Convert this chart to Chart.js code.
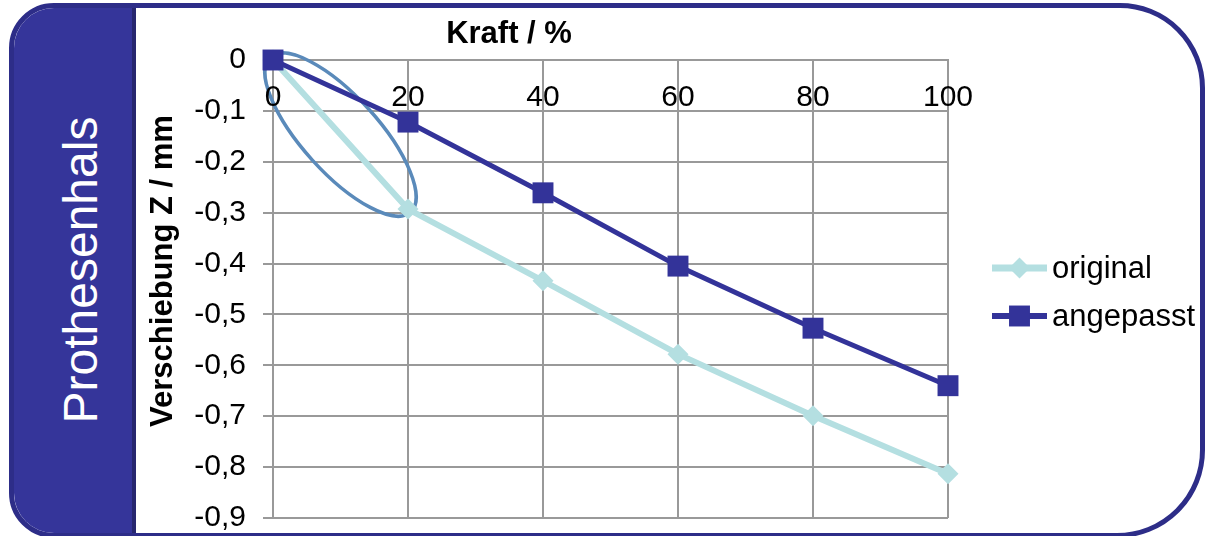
<!DOCTYPE html>
<html>
<head>
<meta charset="utf-8">
<title>Prothesenhals – Verschiebung Z</title>
<script src="https://cdn.jsdelivr.net/npm/chart.js@4.4.1/dist/chart.umd.min.js"></script>
<style>
  html, body { margin: 0; padding: 0; background: #fff; }
  #stage { position: relative; width: 1207px; height: 536px; overflow: hidden; background: #fff; }
  #frame {
    position: absolute; left: 9px; top: 3px; width: 1196px; height: 535px;
    box-sizing: border-box; border: 5px solid #2d2d88;
    border-radius: 45px 85px 88px 45px; overflow: hidden; background: #fff;
  }
  #side {
    position: absolute; left: 0; top: 0; bottom: 0; width: 118px;
    background: #35359a; border-right: 4px solid #27276f;
  }
  #sideLabel {
    position: absolute; left: 80px; top: 270px;
    transform: translate(-50%, -50%) rotate(-90deg);
    white-space: nowrap; color: #fff; line-height: 1;
    font: 48px "Liberation Sans", Arial, sans-serif;
  }
  #chartBox { position: absolute; left: 0; top: 0; width: 1207px; height: 536px; }
</style>
</head>
<body>
<div id="stage">
  <div id="frame"><div id="side"></div></div>
  <div id="sideLabel">Prothesenhals</div>
  <div id="chartBox"><canvas id="chart"></canvas></div>
</div>
<script>
// Force steps (x) and displacement in Z (y, mm)
const force = [0, 20, 40, 60, 80, 100];
const original = [0, -0.293, -0.434, -0.578, -0.699, -0.813];
const angepasst = [0, -0.122, -0.261, -0.405, -0.527, -0.640];

const seriesNames = ['original', 'angepasst'];
const xTickLabels = ['0', '20', '40', '60', '80', '100'];
const yTickLabels = ['0', '-0,1', '-0,2', '-0,3', '-0,4', '-0,5', '-0,6', '-0,7', '-0,8', '-0,9'];
const xTitle = 'Kraft / %';
const yTitle = 'Verschiebung Z / mm';

// Highlighted initial segment of the "original" curve (index range)
const highlight = { from: 0, to: 1 };

const FONT = '"Liberation Sans", Arial, sans-serif';
const GRID = '#999999';
const LIGHT = '#b4dfe1';
const DARK = '#333399';

const decorations = {
  id: 'decorations',
  beforeDatasetsDraw(chart) {
    const { ctx, chartArea, scales: { x, y } } = chart;
    ctx.save();

    // ellipse around the first segment of the original curve
    const x0 = x.getPixelForValue(force[highlight.from]);
    const y0 = y.getPixelForValue(original[highlight.from]);
    const x1 = x.getPixelForValue(force[highlight.to]);
    const y1 = y.getPixelForValue(original[highlight.to]);
    const cx = (x0 + x1) / 2, cy = (y0 + y1) / 2;
    const semiMajor = Math.hypot(x1 - x0, y1 - y0) / 2 + 4;
    ctx.beginPath();
    ctx.ellipse(cx, cy, semiMajor, 38, Math.atan2(y1 - y0, x1 - x0), 0, Math.PI * 2);
    ctx.strokeStyle = '#5a8aba';
    ctx.lineWidth = 3.5;
    ctx.stroke();

    // x tick labels, drawn just inside the plot below the top axis
    ctx.fillStyle = '#000';
    ctx.font = '30px ' + FONT;
    ctx.textAlign = 'center';
    ctx.textBaseline = 'middle';
    x.ticks.forEach((t, i) => {
      ctx.fillText(xTickLabels[i], x.getPixelForValue(t.value), chartArea.top + 38);
    });

    // axis titles
    ctx.font = 'bold 31px ' + FONT;
    ctx.fillText(xTitle, chartArea.left + 236, chartArea.top - 26);
    ctx.translate(163, chartArea.top + 211);
    ctx.rotate(-Math.PI / 2);
    ctx.fillText(yTitle, 0, 0);
    ctx.restore();
  },
  afterDraw(chart) {
    const { ctx, chartArea } = chart;
    ctx.save();
    const lx0 = chartArea.right + 44, lx1 = chartArea.right + 99;
    seriesNames.forEach((name, i) => {
      const ds = chart.data.datasets.find(d => d.label === name);
      const ly = 268 + i * 48;
      ctx.beginPath();
      ctx.moveTo(lx0, ly);
      ctx.lineTo(lx1, ly);
      ctx.strokeStyle = ds.borderColor;
      ctx.lineWidth = ds.borderWidth + 1;
      ctx.stroke();
      ctx.fillStyle = ds.pointBackgroundColor;
      ctx.strokeStyle = ds.pointBackgroundColor;
      Chart.helpers.drawPoint(ctx, { pointStyle: ds.pointStyle, radius: ds.pointRadius, rotation: 0, borderWidth: 0 },
        (lx0 + lx1) / 2, ly);
      ctx.fillStyle = '#000';
      ctx.font = '31px ' + FONT;
      ctx.textAlign = 'left';
      ctx.textBaseline = 'middle';
      ctx.fillText(name, lx1 + 5, ly + 1);
    });
    ctx.restore();
  }
};

new Chart(document.getElementById('chart'), {
  type: 'line',
  data: {
    datasets: [
      {
        label: seriesNames[0],
        data: force.map((f, i) => ({ x: f, y: original[i] })),
        borderColor: LIGHT, backgroundColor: LIGHT,
        pointBackgroundColor: LIGHT, pointBorderColor: LIGHT,
        borderWidth: 6, pointStyle: 'rectRot', pointRadius: 10.5, pointBorderWidth: 0,
        tension: 0, order: 1, clip: false
      },
      {
        label: seriesNames[1],
        data: force.map((f, i) => ({ x: f, y: angepasst[i] })),
        borderColor: DARK, backgroundColor: DARK,
        pointBackgroundColor: DARK, pointBorderColor: DARK,
        borderWidth: 5, pointStyle: 'rect', pointRadius: 14.8, pointBorderWidth: 0,
        tension: 0, order: 0, clip: false
      }
    ]
  },
  options: {
    responsive: true,
    maintainAspectRatio: false,
    animation: false,
    layout: { autoPadding: false, padding: { left: 140, right: 259, top: 0, bottom: 18 } },
    plugins: { legend: { display: false }, tooltip: { enabled: false } },
    scales: {
      x: {
        type: 'linear', position: 'top', min: 0, max: 100,
        ticks: { stepSize: 20, display: false },
        grid: { color: GRID, lineWidth: 2, drawTicks: false },
        border: { display: true, color: GRID, width: 2 },
        afterFit(scale) { scale.height = 60; }
      },
      y: {
        type: 'linear', min: -0.9, max: 0,
        ticks: {
          stepSize: 0.1, padding: 17, color: '#000',
          font: { family: FONT, size: 30 },
          callback: (v) => yTickLabels[Math.round(-v * 10)]
        },
        grid: { color: GRID, lineWidth: 2, drawTicks: true, tickLength: 10, tickColor: GRID },
        border: { display: true, color: GRID, width: 2 },
        afterFit(scale) {
          scale.width = 133;
          // fixed plot frame: labels may overhang the plot edges
          scale.paddingTop = 0;
          scale.paddingBottom = 0;
        }
      }
    }
  },
  plugins: [decorations]
});
</script>
</body>
</html>
